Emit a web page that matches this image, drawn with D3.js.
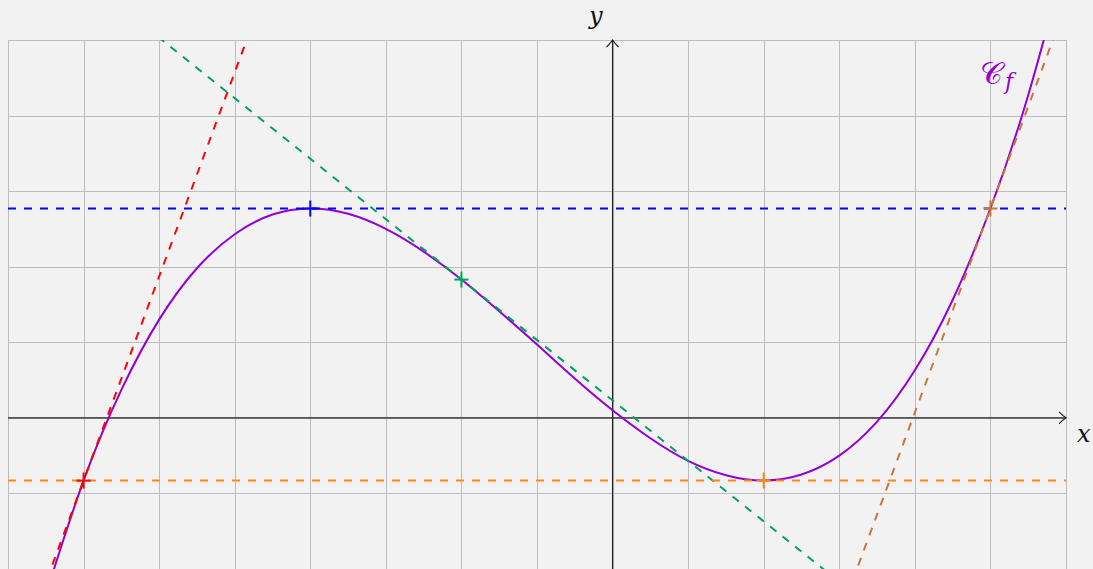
<!DOCTYPE html>
<html>
<head>
<meta charset="utf-8">
<script src="https://cdn.jsdelivr.net/npm/d3@7"></script>
<style>
  body { margin: 0; background: #f2f2f2; }
  svg { display: block; }
  .lbl { font-family: "DejaVu Serif", "Liberation Serif", serif; font-style: italic; }
</style>
</head>
<body>
<svg id="chart" width="1093" height="569"></svg>
<script>
// curve points
const curveX = [-7.5, -7, -6.5, -6, -5.5, -5, -4.5, -4, -3.5, -3, -2.5, -2, -1.5, -1, -0.5,
  0, 0.5, 1, 1.5, 2, 2.5, 3, 3.5, 4, 4.5, 5, 5.5, 6];
const curveY = [-2.34, -0.83, 0.37, 1.30, 1.98, 2.43, 2.69, 2.77, 2.70, 2.50, 2.20, 1.83, 1.41, 0.97, 0.52,
  0.10, -0.27, -0.57, -0.76, -0.83, -0.75, -0.50, -0.05, 0.63, 1.56, 2.77, 4.27, 6.10];

// tangent lines: contact point, slope, colour
const tanX = [-7, -4, -2, 2, 5];
const tanY = [-0.83, 2.77, 1.83, -0.83, 2.77];
const tanSlope = [2.7, 0, -0.8, 0, 2.7];
const tanColor = ["#ff0000", "#0000ff", "#00a060", "#ff8515", "#c8783c"];

const xTicks = d3.range(-8, 7);
const yTicks = d3.range(-2, 6);

const svg = d3.select("#chart");
const x = d3.scaleLinear().domain([-8, 6]).range([8, 1066]);
const y = d3.scaleLinear().domain([-2, 5]).range([569, 40]);

svg.append("defs").append("clipPath").attr("id", "clip")
  .append("rect")
  .attr("x", x(-8)).attr("y", y(5))
  .attr("width", x(6) - x(-8)).attr("height", y(-2) - y(5));

// grid
const grid = svg.append("g").attr("stroke", "#bdbdbd").attr("stroke-width", 1);
grid.selectAll(".vx").data(xTicks).enter().append("line")
  .attr("x1", d => Math.round(x(d)) + 0.5).attr("x2", d => Math.round(x(d)) + 0.5)
  .attr("y1", y(5)).attr("y2", y(-2));
grid.selectAll(".hy").data(yTicks).enter().append("line")
  .attr("y1", d => Math.round(y(d)) + 0.5).attr("y2", d => Math.round(y(d)) + 0.5)
  .attr("x1", x(-8)).attr("x2", x(6));

// axes
const axes = svg.append("g").attr("stroke", "#222").attr("stroke-width", 1.2).attr("fill", "none");
axes.append("line").attr("x1", x(-8)).attr("x2", x(6)).attr("y1", y(0)).attr("y2", y(0));
axes.append("line").attr("x1", x(0)).attr("x2", x(0)).attr("y1", y(-2)).attr("y2", y(5));
axes.append("path")
  .attr("d", `M${x(6) - 7},${y(0) - 6} Q${x(6) - 3},${y(0) - 2} ${x(6)},${y(0)} Q${x(6) - 3},${y(0) + 2} ${x(6) - 7},${y(0) + 6}`);
axes.append("path")
  .attr("d", `M${x(0) - 6},${y(5) + 7} Q${x(0) - 2},${y(5) + 3} ${x(0)},${y(5)} Q${x(0) + 2},${y(5) + 3} ${x(0) + 6},${y(5) + 7}`);

svg.append("text").attr("class", "lbl").attr("x", 1077).attr("y", 442)
  .attr("font-size", 24).attr("fill", "#111").text("x");
svg.append("text").attr("class", "lbl").attr("x", 589).attr("y", 24)
  .attr("font-size", 24).attr("fill", "#111").text("y");

const plot = svg.append("g").attr("clip-path", "url(#clip)");

// curve
const pts = curveX.map((d, i) => [d, curveY[i]]);
plot.append("path")
  .datum(pts)
  .attr("fill", "none")
  .attr("stroke", "#9400d3")
  .attr("stroke-width", 2)
  .attr("d", d3.line().x(d => x(d[0])).y(d => y(d[1])).curve(d3.curveNatural));

// tangents
const tangents = tanX.map((d, i) => ({ x0: d, y0: tanY[i], m: tanSlope[i], c: tanColor[i] }));
plot.selectAll(".tan").data(tangents).enter().append("line")
  .attr("x1", d => x(-8)).attr("y1", d => y(d.y0 + d.m * (-8 - d.x0)))
  .attr("x2", d => x(6)).attr("y2", d => y(d.y0 + d.m * (6 - d.x0)))
  .attr("stroke", d => d.c)
  .attr("stroke-width", 2)
  .attr("stroke-dasharray", "8,8");

// markers
const mk = svg.append("g").attr("stroke-width", 2);
tangents.forEach(d => {
  mk.append("line").attr("stroke", d.c)
    .attr("x1", x(d.x0) - 7).attr("x2", x(d.x0) + 7).attr("y1", y(d.y0)).attr("y2", y(d.y0));
  mk.append("line").attr("stroke", d.c)
    .attr("x1", x(d.x0)).attr("x2", x(d.x0)).attr("y1", y(d.y0) - 8).attr("y2", y(d.y0) + 8);
});

// curve name
const cf = svg.append("text").attr("x", 980).attr("y", 84).attr("fill", "#9400d3");
cf.append("tspan").attr("font-family", "DejaVu Serif, serif").attr("font-size", 31).text("𝒞");
cf.append("tspan").attr("class", "lbl").attr("font-size", 22).attr("dx", 2).attr("dy", 5).text("f");
</script>
</body>
</html>
